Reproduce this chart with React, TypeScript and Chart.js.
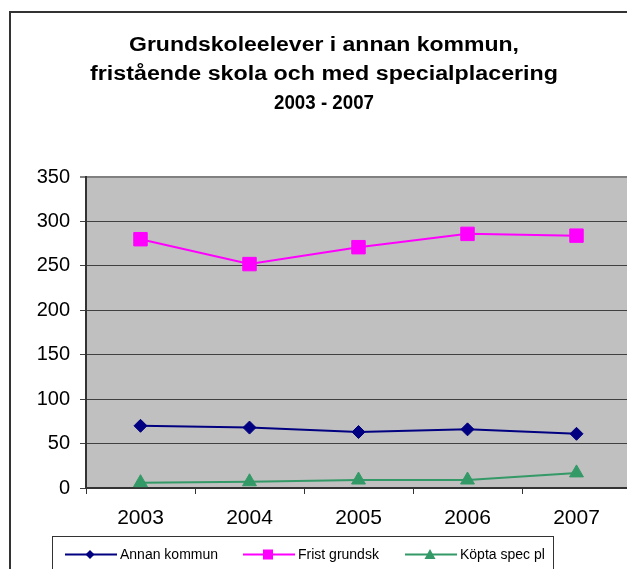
import React, { useEffect, useRef } from 'react';
import { Chart, registerables } from 'chart.js';

Chart.register(...registerables);

const years = ['2003', '2004', '2005', '2006', '2007'];
const annanKommun = [70, 68, 63, 66, 61];
const fristGrundsk = [280, 252, 271, 286, 284];
const koptaSpecPl = [6, 7, 9, 9, 17];
const seriesNames = ['Annan kommun', 'Frist grundsk', 'Köpta spec pl'];
const titleLines = [
  'Grundskoleelever i annan kommun,',
  'fristående skola och med specialplacering',
  '2003 - 2007',
];
const yMin = 0;
const yMax = 350;
const yStep = 50;

const W = 660;
const H = 600;
const FONT = 'Arial, "Liberation Sans", sans-serif';

const colors = ['#000080', '#FF00FF', '#339966'];
const styles = ['rectRot', 'rect', 'triangle'];

function drawMarker(ctx: CanvasRenderingContext2D, style: string, x: number, y: number, s: number, color: string) {
  ctx.save();
  ctx.fillStyle = color;
  ctx.beginPath();
  if (style === 'rectRot') {
    ctx.moveTo(x, y - s);
    ctx.lineTo(x + s, y);
    ctx.lineTo(x, y + s);
    ctx.lineTo(x - s, y);
  } else if (style === 'rect') {
    ctx.rect(x - s, y - s, 2 * s, 2 * s);
  } else {
    ctx.moveTo(x, y - s);
    ctx.lineTo(x + s, y + s * 0.8);
    ctx.lineTo(x - s, y + s * 0.8);
  }
  ctx.closePath();
  ctx.fill();
  ctx.restore();
}

function drawStretched(ctx: CanvasRenderingContext2D, text: string, cx: number, y: number, target: number) {
  const w0 = ctx.measureText(text).width;
  const sx = target / w0;
  ctx.save();
  ctx.translate(cx - target / 2, y);
  ctx.scale(sx, 1);
  ctx.textAlign = 'left';
  ctx.fillText(text, 0, 0);
  ctx.restore();
}

const decorPlugin = {
  id: 'decor',
  beforeDraw(chart: any) {
    const ctx: CanvasRenderingContext2D = chart.ctx;
    const a = chart.chartArea;
    ctx.save();
    ctx.fillStyle = '#ffffff';
    ctx.fillRect(0, 0, W, H);
    ctx.strokeStyle = '#333333';
    ctx.lineWidth = 2;
    ctx.strokeRect(10, 12, W, H);
    ctx.fillStyle = '#C0C0C0';
    ctx.fillRect(a.left, a.top, a.right - a.left, a.bottom - a.top);
    const targets = [390, 468, 100];
    const baselines = [51, 80, 109];
    ctx.fillStyle = '#000000';
    ctx.font = 'bold 20px ' + FONT;
    ctx.textBaseline = 'alphabetic';
    titleLines.forEach((line, i) => {
      drawStretched(ctx, line, 324, baselines[i], targets[i]);
    });
    ctx.restore();
  },
  afterDraw(chart: any) {
    const ctx: CanvasRenderingContext2D = chart.ctx;
    ctx.save();
    ctx.fillStyle = '#ffffff';
    ctx.fillRect(52.5, 536.5, 501, 80);
    ctx.strokeStyle = '#333333';
    ctx.lineWidth = 1;
    ctx.strokeRect(52.5, 536.5, 501, 80);
    const lineStarts = [65, 243, 405];
    const ly = 554.5;
    const markerSizes = [4.5, 5, 5.5];
    for (let i = 0; i < 3; i++) {
      const x0 = lineStarts[i];
      ctx.strokeStyle = colors[i];
      ctx.lineWidth = 2;
      ctx.beginPath();
      ctx.moveTo(x0, ly);
      ctx.lineTo(x0 + 52, ly);
      ctx.stroke();
      drawMarker(ctx, styles[i], x0 + 25, ly, markerSizes[i], colors[i]);
      ctx.fillStyle = '#000000';
      ctx.font = '14px ' + FONT;
      ctx.textAlign = 'left';
      ctx.textBaseline = 'middle';
      ctx.fillText(seriesNames[i], x0 + 55, ly + 0.5);
    }
    ctx.restore();
  },
};

export default function App() {
  const ref = useRef<HTMLCanvasElement | null>(null);
  useEffect(() => {
    const canvas = ref.current;
    if (!canvas) return;
    const data = [annanKommun, fristGrundsk, koptaSpecPl];
    const radii = [6.5, 9.5, 8];
    const chart = new Chart(canvas, {
      type: 'line',
      data: {
        labels: years,
        datasets: data.map((d, i) => ({
          label: seriesNames[i],
          data: d,
          borderColor: colors[i],
          backgroundColor: colors[i],
          pointBackgroundColor: colors[i],
          pointBorderColor: colors[i],
          pointBorderWidth: 1,
          pointStyle: styles[i] as any,
          pointRadius: radii[i],
          borderWidth: 2,
          tension: 0,
          fill: false,
        })),
      },
      options: {
        responsive: false,
        animation: false,
        devicePixelRatio: 1,
        events: [],
        layout: { padding: { left: 0, right: 29, top: 177, bottom: 72 } },
        plugins: {
          legend: { display: false },
          title: { display: false },
          tooltip: { enabled: false },
        },
        scales: {
          x: {
            type: 'category',
            offset: true,
            grid: {
              offset: true,
              drawOnChartArea: false,
              drawTicks: true,
              tickLength: 6,
              color: '#333333',
              lineWidth: 1,
            },
            border: { display: true, color: '#333333', width: 2 },
            ticks: {
              color: '#000000',
              font: { family: FONT, size: 21 },
              padding: 12,
              maxRotation: 0,
              autoSkip: false,
            },
            afterFit(scale: any) {
              scale.height = 40;
            },
          },
          y: {
            min: yMin,
            max: yMax,
            grid: {
              color: (c: any) => (c.tick && c.tick.value === yMax ? '#808080' : '#404040'),
              lineWidth: (c: any) => (c.tick && c.tick.value === yMax ? 2 : 1),
              drawTicks: true,
              tickLength: 6,
            },
            border: { display: true, color: '#333333', width: 2 },
            ticks: {
              stepSize: yStep,
              color: '#000000',
              font: { family: FONT, size: 20 },
              padding: 10,
            },
            afterFit(scale: any) {
              scale.width = 86;
            },
          },
        },
      },
      plugins: [decorPlugin],
    });
    return () => chart.destroy();
  }, []);
  return (
    <div style={{ position: 'fixed', left: 0, top: 0, right: 0, bottom: 0, overflow: 'hidden', background: '#fff' }}>
      <canvas ref={ref} width={W} height={H} style={{ width: W + 'px', height: H + 'px', display: 'block' }} />
    </div>
  );
}
